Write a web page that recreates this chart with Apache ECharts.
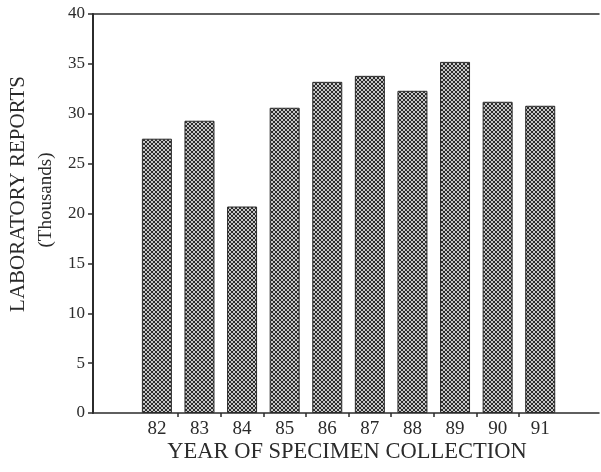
<!DOCTYPE html>
<html>
<head>
<meta charset="utf-8">
<script src="https://cdn.jsdelivr.net/npm/echarts@6/dist/echarts.min.js"></script>
<style>
html,body{margin:0;padding:0;background:#fff;}
#c{width:601px;height:472px;}
</style>
</head>
<body>
<div id="c"></div>
<script>
// Data
const years = [82, 83, 84, 85, 86, 87, 88, 89, 90, 91];
const reports = [27.5, 29.3, 20.7, 30.6, 33.2, 33.8, 32.3, 35.2, 31.2, 30.8];
const yTicks = [0, 5, 10, 15, 20, 25, 30, 35, 40];
const xTickMarks = [82.5, 83.5, 84.5, 85.5, 86.5, 87.5, 88.5, 89.5, 90.5];

// crosshatch pattern
const pat = document.createElement('canvas');
pat.width = 4; pat.height = 4;
const pc = pat.getContext('2d');
pc.fillStyle = '#c6c6c6';
pc.fillRect(0, 0, 4, 4);
pc.fillStyle = '#2c2c2c';
for (let i = 0; i < 4; i++) {
  pc.fillRect(i, i, 1, 1);
  pc.fillRect(i, 3 - i, 1, 1);
}

const serif = '"Liberation Serif", "Times New Roman", serif';
const ink = '#2b2b2b';

const chart = echarts.init(document.getElementById('c'), null, {renderer: 'canvas'});
chart.setOption({
  animation: false,
  backgroundColor: '#ffffff',
  grid: {left: 93, top: 14, right: 2, bottom: 59, containLabel: false},
  xAxis: [{
    type: 'value',
    min: 80.5,
    max: 92.38,
    position: 'bottom',
    splitLine: {show: false},
    axisLine: {show: true, lineStyle: {color: ink, width: 1.5}},
    axisTick: {show: true, length: 4, inside: false, customValues: xTickMarks, lineStyle: {color: ink, width: 1.5}},
    axisLabel: {
      show: true, customValues: years, margin: 7,
      fontFamily: serif, fontSize: 19, color: ink,
      formatter: v => String(v)
    }
  }, {
    type: 'value',
    min: 80.5,
    max: 92.38,
    position: 'top',
    splitLine: {show: false},
    axisLine: {show: true, lineStyle: {color: ink, width: 1.5}},
    axisTick: {show: false},
    axisLabel: {show: false}
  }],
  yAxis: {
    type: 'value',
    min: 0,
    max: 40,
    interval: 5,
    splitLine: {show: false},
    axisLine: {show: true, lineStyle: {color: ink, width: 2}},
    axisTick: {show: true, length: 5, lineStyle: {color: ink, width: 1.5}},
    axisLabel: {margin: 8, fontFamily: serif, fontSize: 17, color: ink,
      customValues: yTicks}
  },
  series: [{
    type: 'bar',
    xAxisIndex: 0,
    barWidth: 30,
    data: years.map((y, i) => [y, reports[i]]),
    itemStyle: {
      color: {image: pat, repeat: 'repeat'},
      borderColor: '#2a2a2a',
      borderWidth: 1
    }
  }],
  graphic: [
    {type: 'text', x: 18, y: 194, rotation: Math.PI / 2,
     style: {text: 'LABORATORY REPORTS', font: '21px ' + serif, fill: ink, textAlign: 'center', textVerticalAlign: 'middle'}},
    {type: 'text', x: 46, y: 200, rotation: Math.PI / 2,
     style: {text: '(Thousands)', font: '19px ' + serif, fill: ink, textAlign: 'center', textVerticalAlign: 'middle'}},
    {type: 'text', x: 347, y: 452,
     style: {text: 'YEAR OF SPECIMEN COLLECTION', font: '22.5px ' + serif, fill: ink, textAlign: 'center', textVerticalAlign: 'middle'}}
  ]
});
</script>
</body>
</html>
